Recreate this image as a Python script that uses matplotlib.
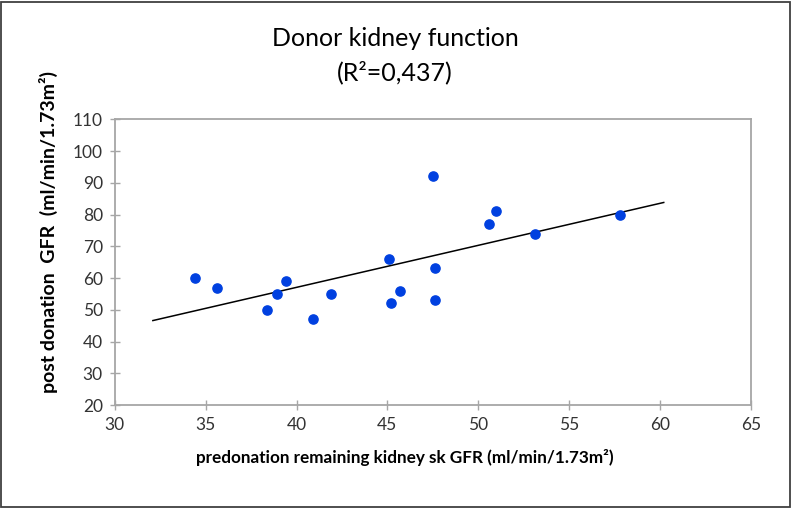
import numpy as np
import matplotlib.pyplot as plt
from matplotlib.patches import Rectangle

# donor data
pre_gfr = [34.4, 35.6, 38.4, 38.9, 39.4, 40.9, 41.9, 45.1, 45.2, 45.7, 47.5, 47.6, 47.6, 50.6, 51.0, 53.1, 57.8]
post_gfr = [60, 57, 50, 55, 59, 47, 55, 66, 52, 56, 92, 63, 53, 77, 81, 74, 80]

# trend line end points
trend_x = [32.1, 60.2]
trend_y = [46.6, 83.8]

xticks = [30, 35, 40, 45, 50, 55, 60, 65]
yticks = [20, 30, 40, 50, 60, 70, 80, 90, 100, 110]

W, H = 792, 509
fig = plt.figure(figsize=(W / 100, H / 100), dpi=100)
plt.rcParams['font.family'] = ['Lato', 'DejaVu Sans']

# outer chart frame
fig.patches.append(Rectangle((1 / W, 2 / H), 789 / W, 505 / H, transform=fig.transFigure,
                             fill=False, edgecolor='#404040', linewidth=1.3))

ax = fig.add_axes([114.7 / W, 1 - 405 / H, (751 - 114.7) / W, (405 - 119.3) / H])
ax.scatter(pre_gfr, post_gfr, s=44, color='#0040e0', zorder=3)
ax.plot(trend_x, trend_y, color='black', linewidth=1.1)

ax.set_xlim(30, 65)
ax.set_ylim(20, 110)
ax.set_xticks(xticks)
ax.set_yticks(yticks)
for s in ax.spines.values():
    s.set_color('#a6a6a6')
    s.set_linewidth(1.3)
ax.tick_params(direction='inout', length=7, width=1, color='#a6a6a6',
               labelsize=12.5, labelcolor='#333333', pad=5)

fig.text(395 / W, 1 - 38 / H, 'Donor kidney function', ha='center', va='center', fontsize=18)
fig.text(395 / W, 1 - 72 / H, '(R²=0,437)', ha='center', va='center', fontsize=18)
fig.text(405 / W, 1 - 457 / H, 'predonation remaining kidney sk GFR (ml/min/1.73m²)',
         ha='center', va='center', fontsize=12.3, fontweight='bold')
fig.text(48 / W, 1 - 232 / H, 'post donation  GFR  (ml/min/1.73m²)', rotation=90,
         ha='center', va='center', fontsize=14, fontweight='bold')

fig.savefig('out.png', dpi=100)
